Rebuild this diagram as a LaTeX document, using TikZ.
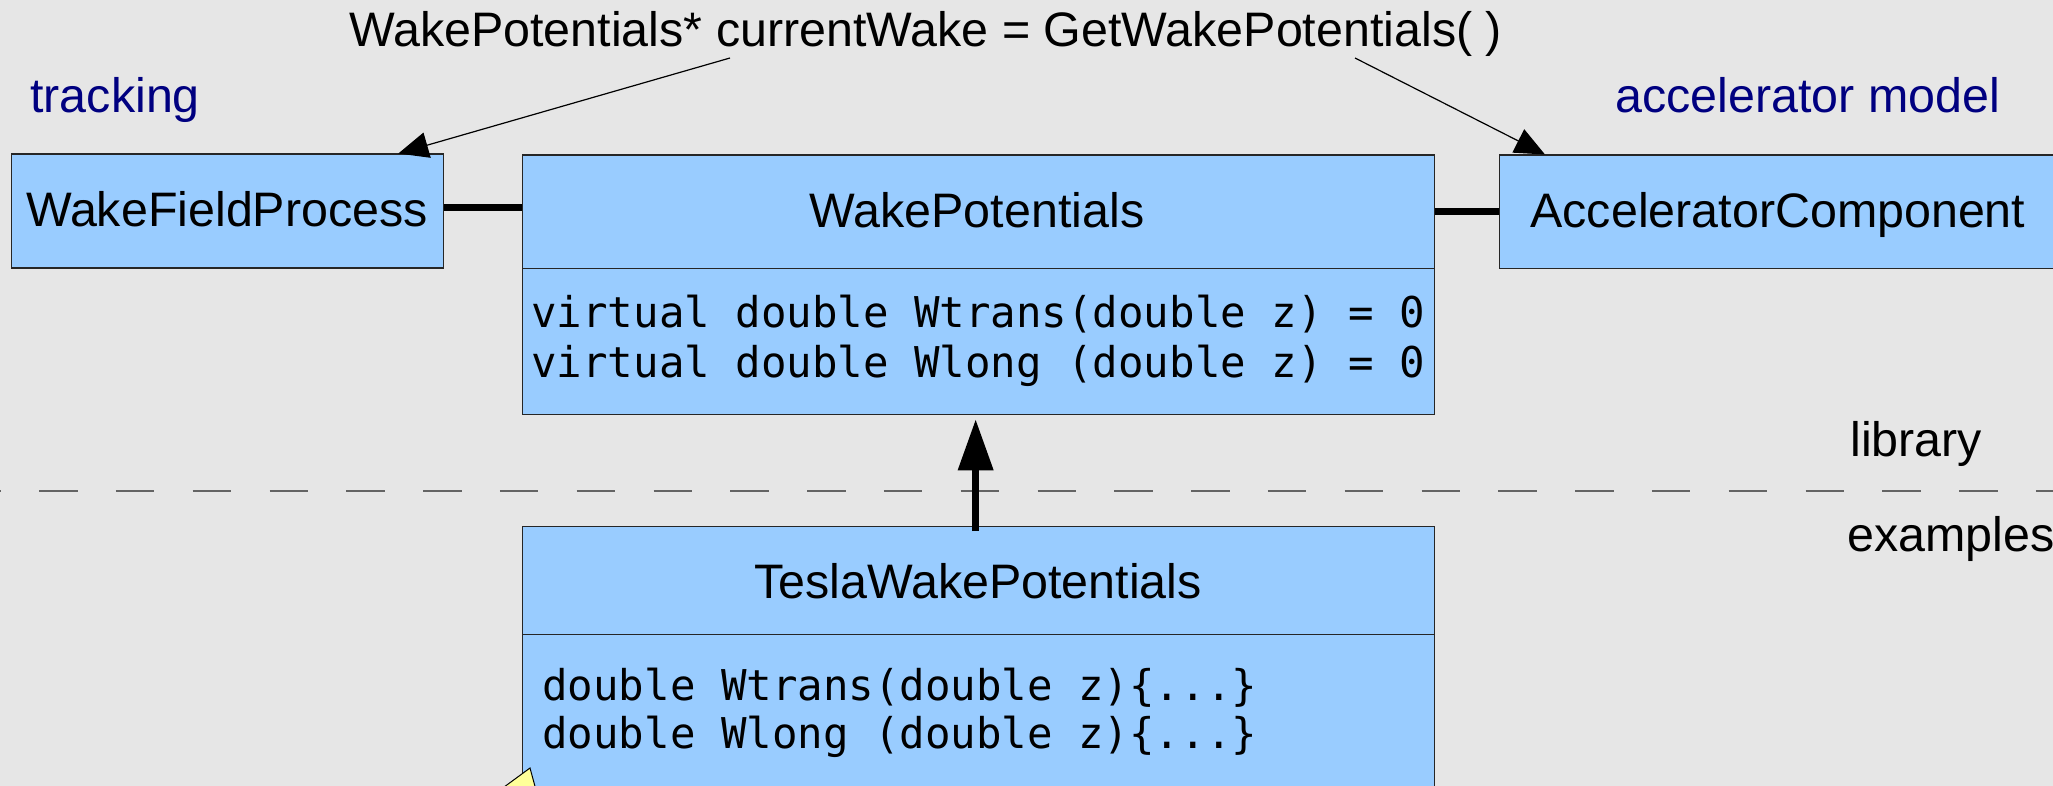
\documentclass[tikz,border=0pt]{standalone}
\usepackage{fontspec}
\setmainfont{Liberation Sans}
\newfontfamily\codefont{DejaVu Sans Mono}
\usetikzlibrary{arrows.meta,calc}
\definecolor{bg}{RGB}{230,230,230}
\definecolor{classfill}{RGB}{153,204,255}
\definecolor{pkgblue}{RGB}{0,0,128}
\definecolor{notefill}{RGB}{255,255,153}
\definecolor{sepgray}{RGB}{100,100,100}

\tikzset{
  classbox/.style={draw=black!85, line width=0.65pt, fill=classfill, rectangle,
    inner sep=0pt, anchor=north west},
  lbl/.style={inner sep=0pt, anchor=base west, font=\fontsize{24.2pt}{28pt}\selectfont},
  ctr/.style={lbl, anchor=base},
  pkg/.style={lbl, text=pkgblue},
  code/.style={inner sep=0pt, anchor=base west, font=\codefont\fontsize{21.2pt}{25pt}\selectfont},
  assoc/.style={line width=3.5pt},
  ptr/.style={line width=0.6pt, -{Triangle[length=15pt,width=13pt]}},
  inherit/.style={line width=3.5pt, -{Triangle[length=25.5pt,width=17pt]}},
}

\begin{document}
\begin{tikzpicture}[x=0.5pt,y=-0.5pt]
  % canvas
  \useasboundingbox (0,0) rectangle (2053,786);
  \fill[bg] (0,0) rectangle (2053,786);

  % layer separator
  \draw[sepgray, line width=1pt, dash pattern=on 19.2pt off 19.2pt] (-37.7,491) -- (2070,491);

  % boxes
  \node[classbox, minimum width=216.15pt, minimum height=57pt] (wfp) at (10.7,153.5) {};
  \node[classbox, minimum width=456pt, minimum height=56.6pt] (wph) at (521.5,154.5) {};
  \node[classbox, minimum width=456pt, minimum height=73.15pt] (wpb) at (521.5,267.7) {};
  \node[classbox, minimum width=280.5pt, minimum height=56.6pt] (ac) at (1499,154.5) {};
  \node[classbox, minimum width=456pt, minimum height=54pt] (tsh) at (521.5,526) {};
  \node[classbox, minimum width=456pt, minimum height=75.75pt] (tsb) at (521.5,634) {};

  % corner of a note below the example class
  \filldraw[fill=notefill, draw=black, line width=0.5pt] (530,768) -- (500,790) -- (536,790) -- cycle;

  % texts
  \node[lbl] (call) at (349,47) {WakePotentials* currentWake = GetWakePotentials( )};
  \node[pkg] (trk) at (30,113) {tracking};
  \node[pkg] (accm) at (1615,113) {accelerator model};
  \node[lbl] (lib) at (1850,457) {library};
  \node[lbl] (ex) at (1847,552) {examples};

  \node[ctr] (wfpt) at (227,227) {WakeFieldProcess};
  \node[ctr] (wpt) at (977,228) {WakePotentials};
  \node[lbl] (act) at (1530,228) {AcceleratorComponent};
  \node[ctr] (tst) at (978,598) {TeslaWakePotentials};

  \node[code] (wp1) at (531,328) {virtual double Wtrans(double z) = 0};
  \node[code] (wp2) at (531,378) {virtual double Wlong (double z) = 0};
  \node[code] (ts1) at (542,700) {double Wtrans(double z)\{...\}};
  \node[code] (ts2) at (542,748) {double Wlong (double z)\{...\}};

  % associations
  \draw[assoc] ([yshift=1.75pt]wfp.east) -- ([yshift=1.75pt]wfp.east -| wph.west);
  \draw[assoc] (wph.east) -- (ac.west |- wph.east);

  % pointers from the call
  \coordinate (callL) at (730,58);
  \coordinate (callR) at (1355,58);
  \draw[ptr] (callL) -- ([xshift=-23pt]wfp.north east);
  \draw[ptr] (callR) -- ([xshift=23pt]ac.north west);

  % inheritance
  \draw[inherit] ([xshift=-1.25pt,yshift=-2.5pt]tsh.north) -- ([xshift=-1.25pt,yshift=-2pt]wpb.south);
\end{tikzpicture}
\end{document}
